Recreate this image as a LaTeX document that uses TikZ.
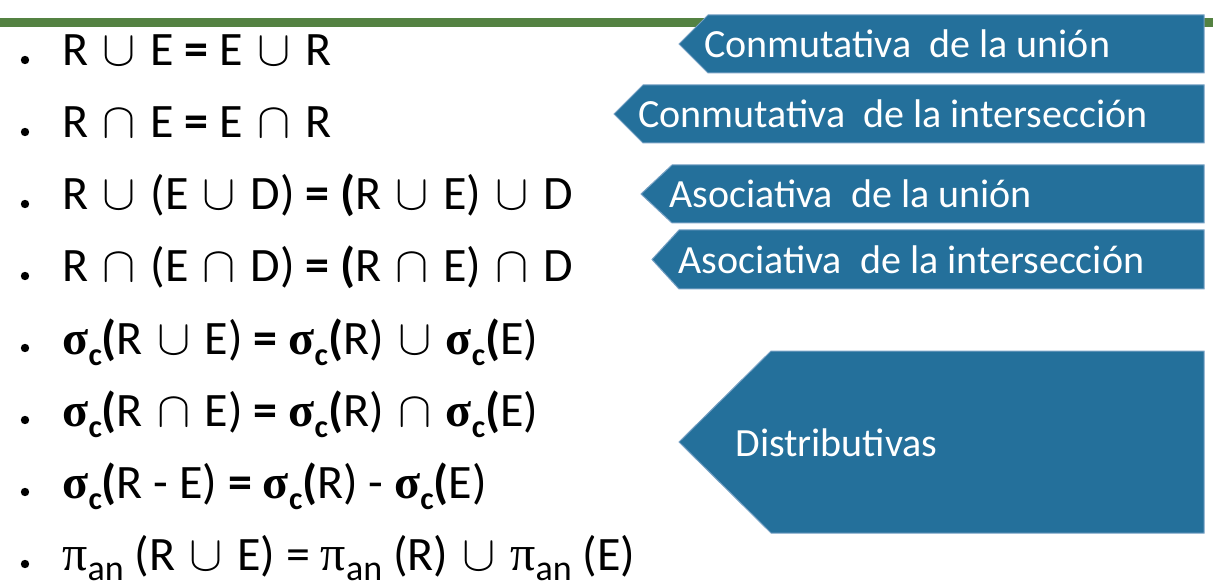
\documentclass[tikz,border=0pt]{standalone}
\usepackage{fontspec}
\setmainfont{Carlito}
\newfontfamily\grk{Liberation Serif}
\definecolor{barra}{RGB}{84,130,66}
\definecolor{azul}{RGB}{36,112,155}
\definecolor{borde}{RGB}{118,160,196}
\newcommand{\union}{\hspace{1.8pt}$\cup$\hspace{1.8pt}}
\newcommand{\inter}{\hspace{1.8pt}$\cap$\hspace{1.8pt}}
\newcommand{\sgc}{{\grk\bfseries\fontsize{24}{24}\selectfont σ}\raisebox{-5.5pt}{\fontsize{16}{16}\selectfont\bfseries c}\textbf{(}}
\newcommand{\pan}{{\grk\fontsize{25}{25}\selectfont π}\raisebox{-5pt}{\fontsize{18}{18}\selectfont an}}

\begin{document}
\begin{tikzpicture}[x=0.5pt,y=-0.5pt,
    eq/.style={anchor=base west,inner sep=0pt,font=\fontsize{24}{28}\selectfont},
    caja/.style={fill=azul,draw=borde,line width=0.5pt},
    rotulo/.style={anchor=base west,inner sep=0pt,text=white,font=\fontsize{20}{24}\selectfont}]
            \useasboundingbox (0,0) rectangle (1213,587);
            \fill[barra] (0,18) rectangle (1213,27);

            \foreach \tip/\cx/\ya/\yb/\tx/\nombre/\texto in {
                679/708/15/73/704/conmu/{Conmutativa~ de la unión},
                614/643/85/143/638/conmi/{Conmutativa~ de la intersección},
                641/672/165/223/669/asocu/{Asociativa~ de la unión},
                652/679/230/289/678/asoci/{Asociativa~ de la intersección},
                679/771/351/533/735/distr/{Distributivas}}
            {
                \draw[caja] (\tip,{(\ya+\yb)/2}) -- (\cx,\ya) -- (1204,\ya) -- (1204,\yb) -- (\cx,\yb) -- cycle;
                \node[rotulo] (\nombre) at (\tx,{(\ya+\yb)/2+14}) {\texto};
            }

            \foreach \i/\txt in {
                1/{R \union{} E \textbf{=} E \union{} R},
                2/{R \inter{} E \textbf{=} E \inter{} R},
                3/{R \union{} (E \union{} D) \textbf{= (}R \union{} E) \union{} D},
                4/{R \inter{} (E \inter{} D) \textbf{= (}R \inter{} E) \inter{} D},
                5/{\sgc R \union{} E) \textbf{=} \sgc R) \union{} \sgc E)},
                6/{\sgc R \inter{} E) \textbf{=} \sgc R) \inter{} \sgc E)},
                7/{\sgc R - E) \textbf{=} \sgc R) - \sgc E)},
                8/{\pan{} (R \union{} E) = \pan{} (R) \union{} \pan{} (E)}}
            {
                \fill (25,{66+72*(\i-1)-6}) circle (2.1pt);
                \node[eq] (eq\i) at (62,{66+72*(\i-1)}) {\txt};
            }
        \end{tikzpicture}
\end{document}
